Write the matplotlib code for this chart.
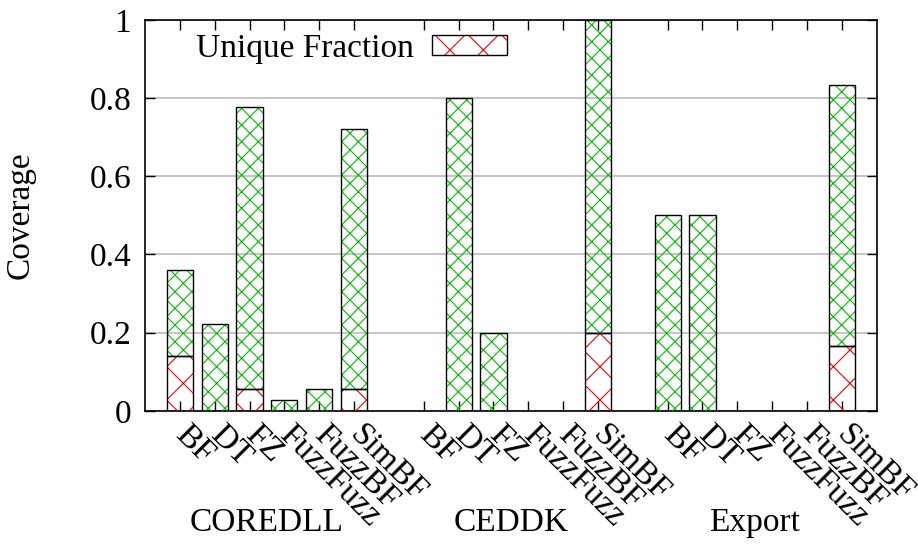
import numpy as np
import matplotlib
matplotlib.use("Agg")
import matplotlib.pyplot as plt
from matplotlib.patches import Rectangle
from matplotlib.legend_handler import HandlerTuple

# data: coverage per tool, and the unique part of it
groups = ["COREDLL", "CEDDK", "Export"]
tools = ["BF", "DT", "FZ", "FuzzFuzz", "FuzzBF", "SimBF"]
total = [
    [0.361, 0.222, 0.778, 0.028, 0.056, 0.722],
    [0.0, 0.8, 0.2, 0.0, 0.0, 1.0],
    [0.5, 0.5, 0.0, 0.0, 0.0, 0.833],
]
unique = [
    [0.139, 0.0, 0.056, 0.0, 0.0, 0.056],
    [0.0, 0.0, 0.0, 0.0, 0.0, 0.2],
    [0.0, 0.0, 0.0, 0.0, 0.0, 0.167],
]

RED = "#ff0000"
GREEN = "#00c000"

plt.rcParams["font.family"] = ["Liberation Serif", "DejaVu Serif"]
plt.rcParams["font.size"] = 24
plt.rcParams["hatch.linewidth"] = 0.8

fig = plt.figure(figsize=(9.18, 5.5), dpi=100)
ax = fig.add_axes([0.158, 0.253, 0.797, 0.711])

gap = len(tools) + 1
width = 0.75
xs, labels = [], []
for g in range(len(groups)):
    pos = np.arange(len(tools)) + g * gap
    uniq = np.array(unique[g])
    rest = np.array(total[g]) - uniq
    # hatch layers (edge colour drives hatch colour), then black outlines
    ax.bar(pos, uniq, width, color="none", edgecolor=RED, hatch="x", linewidth=0, zorder=3)
    ax.bar(pos, rest, width, bottom=uniq, color="none", edgecolor=GREEN, hatch="xx", linewidth=0, zorder=3)
    for p, u, r in zip(pos, uniq, rest):
        if u > 0:
            ax.bar(p, u, width, color="none", edgecolor="black", linewidth=1.0, zorder=4)
        if r > 0:
            ax.bar(p, r, width, bottom=u, color="none", edgecolor="black", linewidth=1.0, zorder=4)
    xs.extend(pos)
    labels.extend(tools)
    ax.text(pos.mean(), -0.286, groups[g], transform=ax.get_xaxis_transform(),
            ha="center", va="center")

ax.set_xlim(-1, 20)
ax.set_ylim(0, 1)
ax.set_xticks(xs)
ax.set_xticklabels(labels, rotation=-45, ha="left", va="center", rotation_mode="anchor")
ax.set_yticks([0, 0.2, 0.4, 0.6, 0.8, 1])
ax.set_yticklabels(["0", "0.2", "0.4", "0.6", "0.8", "1"])
ax.tick_params(direction="in", length=7, width=1, top=True, right=True)
ax.tick_params(axis="x", pad=14)
ax.tick_params(axis="y", pad=10)
ax.yaxis.grid(True, color="#c0c0c0", linewidth=1.3, zorder=0)
ax.set_axisbelow(True)
for s in ax.spines.values():
    s.set_linewidth(1.2)

ax.set_ylabel("Coverage")
ax.yaxis.set_label_coords(-0.150, 0.5)

h1 = Rectangle((0, 0), 1, 1, facecolor="none", edgecolor=RED, hatch="x", linewidth=0)
h2 = Rectangle((0, 0), 1, 1, facecolor="none", edgecolor="black", linewidth=1.0)
ax.legend([(h1, h2)], ["Unique Fraction"], handler_map={tuple: HandlerTuple(ndivide=1)},
          loc="upper left", bbox_to_anchor=(0.038, 1.025), frameon=False, markerfirst=False,
          handlelength=2.25, handleheight=0.57, handletextpad=0.55, borderaxespad=0.3)

fig.savefig("out.png", dpi=100)
